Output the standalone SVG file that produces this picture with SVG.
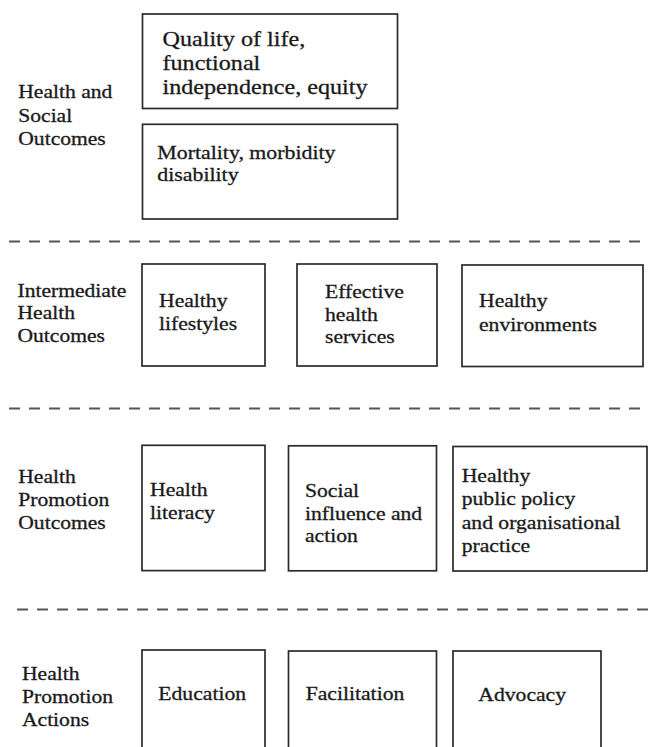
<svg xmlns="http://www.w3.org/2000/svg" width="648" height="747" viewBox="0 0 648 747" font-family="'Liberation Serif', 'Times New Roman', serif">
  <style>
    .box { fill: #ffffff; stroke: #2b2b2b; stroke-width: 1.7; }
    .sep { stroke: #555555; stroke-width: 2; stroke-dasharray: 11 9; fill: none; }
    text { font-family: "Liberation Serif", "Times New Roman", serif; fill: #1a1a1a; stroke: #1a1a1a; stroke-width: 0.3; }
    .lbl { font-size: 18.6px; }
    .txt { font-size: 19px; }
    .big { font-size: 21px; }
  </style>

  <rect width="648" height="747" fill="#ffffff"/>

  <!-- dashed dividers between the tiers -->
  <g id="dividers">
    <line class="sep" x1="9" y1="241.5" x2="648" y2="241.5"/>
    <line class="sep" x1="9" y1="408.5" x2="648" y2="408.5"/>
    <line class="sep" x1="17" y1="609.5" x2="648" y2="609.5"/>
  </g>

  <!-- tier labels on the left -->
  <g id="label-health-social">
    <text class="lbl" transform="translate(18.3 98.3) scale(1.16 1)"><tspan x="0" y="0">Health and</tspan><tspan x="0" y="23.3">Social</tspan><tspan x="0" y="46.6">Outcomes</tspan></text>
  </g>
  <g id="label-intermediate">
    <text class="lbl" transform="translate(17.5 296.7) scale(1.16 1)"><tspan x="0" y="0">Intermediate</tspan><tspan x="0" y="22.5">Health</tspan><tspan x="0" y="45">Outcomes</tspan></text>
  </g>
  <g id="label-promotion-outcomes">
    <text class="lbl" transform="translate(18.3 483) scale(1.16 1)"><tspan x="0" y="0">Health</tspan><tspan x="0" y="23">Promotion</tspan><tspan x="0" y="46">Outcomes</tspan></text>
  </g>
  <g id="label-promotion-actions">
    <text class="lbl" transform="translate(22 680) scale(1.16 1)"><tspan x="0" y="0">Health</tspan><tspan x="0" y="23">Promotion</tspan><tspan x="0" y="46">Actions</tspan></text>
  </g>

  <!-- Health and social outcomes -->
  <g id="quality-of-life">
    <rect class="box" x="142.5" y="14" width="255" height="94.5"/>
    <text class="big" transform="translate(162.5 45.7) scale(1.15 1)"><tspan x="0" y="0">Quality of life,</tspan><tspan x="0" y="24.2">functional</tspan><tspan x="0" y="48.4">independence, equity</tspan></text>
  </g>
  <g id="mortality">
    <rect class="box" x="142.5" y="124.3" width="255" height="94.7"/>
    <text class="txt" transform="translate(157.3 159) scale(1.15 1)"><tspan x="0" y="0">Mortality, morbidity</tspan><tspan x="0" y="22.5">disability</tspan></text>
  </g>

  <!-- Intermediate health outcomes -->
  <g id="healthy-lifestyles">
    <rect class="box" x="142" y="264" width="123" height="102"/>
    <text class="txt" transform="translate(159 307) scale(1.14 1)"><tspan x="0" y="0">Healthy</tspan><tspan x="0" y="23">lifestyles</tspan></text>
  </g>
  <g id="effective-health-services">
    <rect class="box" x="297" y="264" width="140" height="102"/>
    <text class="txt" transform="translate(325 298) scale(1.14 1)"><tspan x="0" y="0">Effective</tspan><tspan x="0" y="22.6">health</tspan><tspan x="0" y="45.2">services</tspan></text>
  </g>
  <g id="healthy-environments">
    <rect class="box" x="462" y="265" width="181" height="101.5"/>
    <text class="txt" transform="translate(479 307) scale(1.14 1)"><tspan x="0" y="0">Healthy</tspan><tspan x="0" y="24">environments</tspan></text>
  </g>

  <!-- Health promotion outcomes -->
  <g id="health-literacy">
    <rect class="box" x="142" y="445.3" width="123" height="125.3"/>
    <text class="txt" transform="translate(150 496) scale(1.14 1)"><tspan x="0" y="0">Health</tspan><tspan x="0" y="23">literacy</tspan></text>
  </g>
  <g id="social-influence">
    <rect class="box" x="288.5" y="445.8" width="148" height="125"/>
    <text class="txt" transform="translate(305 497) scale(1.14 1)"><tspan x="0" y="0">Social</tspan><tspan x="0" y="22.7">influence and</tspan><tspan x="0" y="45.4">action</tspan></text>
  </g>
  <g id="healthy-public-policy">
    <rect class="box" x="453" y="446.5" width="194" height="124.5"/>
    <text class="txt" transform="translate(461.7 482) scale(1.14 1)"><tspan x="0" y="0">Healthy</tspan><tspan x="0" y="23.3">public policy</tspan><tspan x="0" y="46.6">and organisational</tspan><tspan x="0" y="69.9">practice</tspan></text>
  </g>

  <!-- Health promotion actions -->
  <g id="education">
    <rect class="box" x="142" y="650" width="123" height="130"/>
    <text class="txt" transform="translate(158.3 700) scale(1.14 1)">Education</text>
  </g>
  <g id="facilitation">
    <rect class="box" x="288.5" y="651" width="148" height="130"/>
    <text class="txt" transform="translate(305.7 700) scale(1.14 1)">Facilitation</text>
  </g>
  <g id="advocacy">
    <rect class="box" x="453" y="651" width="148" height="130"/>
    <text class="txt" transform="translate(478.3 700.5) scale(1.14 1)">Advocacy</text>
  </g>
</svg>
